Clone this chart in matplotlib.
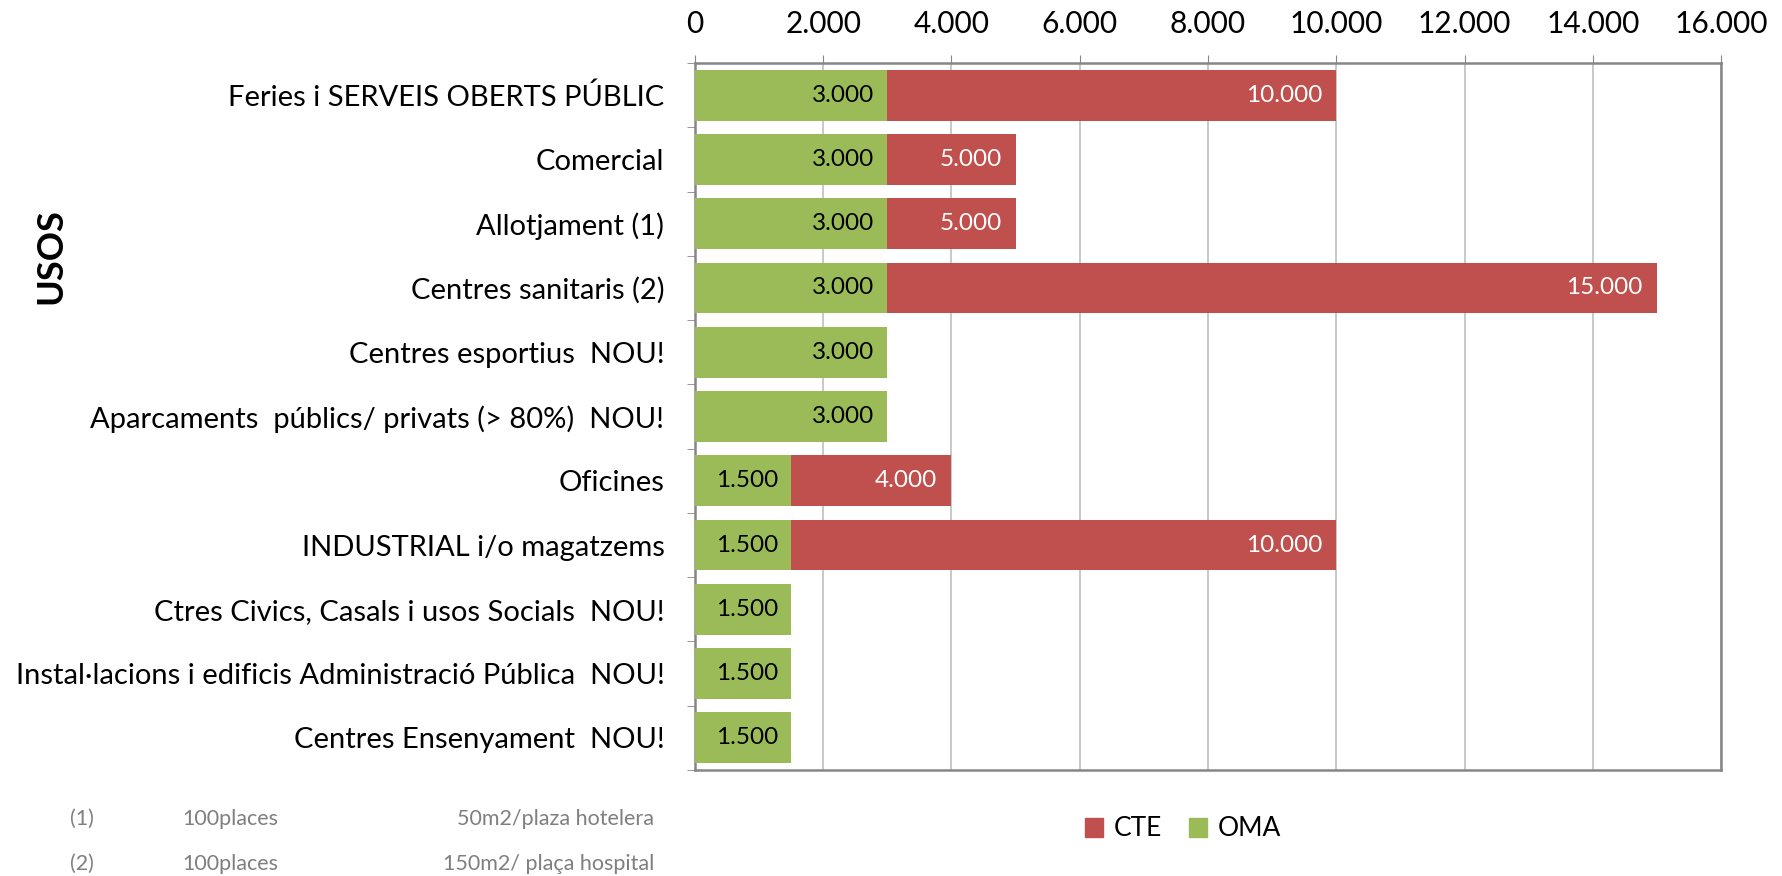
import matplotlib.pyplot as plt
from matplotlib.ticker import FuncFormatter
from matplotlib.patches import Patch

usos = [
    "Feries i SERVEIS OBERTS PÚBLIC",
    "Comercial",
    "Allotjament (1)",
    "Centres sanitaris (2)",
    "Centres esportius  NOU!",
    "Aparcaments  públics/ privats (> 80%)  NOU!",
    "Oficines",
    "INDUSTRIAL i/o magatzems",
    "Ctres Civics, Casals i usos Socials  NOU!",
    "Instal·lacions i edificis Administració Pública  NOU!",
    "Centres Ensenyament  NOU!",
]
oma = [3000, 3000, 3000, 3000, 3000, 3000, 1500, 1500, 1500, 1500, 1500]
cte = [10000, 5000, 5000, 15000, 0, 0, 4000, 10000, 0, 0, 0]

green = '#9BBB59'
red = '#C0504D'
font = 'Lato'
plt.rcParams['font.family'] = [font, 'DejaVu Sans']


def fmt(v):
    return f"{int(v):,}".replace(',', '.')


fig = plt.figure(figsize=(17.83, 8.76), dpi=100)
ax = fig.add_axes([695 / 1783, 1 - 770 / 876, (1721 - 695) / 1783, (770 - 63) / 876])

y = list(range(len(usos)))
# CTE drawn behind, OMA in front (100% overlap like Excel)
ax.barh(y, cte, height=0.79, color=red, zorder=2)
ax.barh(y, oma, height=0.79, color=green, zorder=3)

for i in y:
    ax.text(oma[i] - 200, i, fmt(oma[i]), ha='right', va='center', fontsize=17.5, color='black', zorder=4)
    if cte[i] > 0:
        ax.text(cte[i] - 220, i, fmt(cte[i]), ha='right', va='center', fontsize=17.5, color='white', zorder=4)

ax.set_xlim(0, 16000)
ax.set_ylim(10.5, -0.5)
ax.set_xticks(range(0, 16001, 2000))
ax.xaxis.set_major_formatter(FuncFormatter(lambda v, p: fmt(v)))
ax.xaxis.tick_top()
ax.tick_params(axis='x', length=6, color='#868686', labelsize=21.5, pad=12)
ax.set_yticks(y)
ax.set_yticklabels(usos, fontsize=21)
ax.set_yticks([k + 0.5 for k in range(-1, len(usos))], minor=True)
ax.tick_params(axis='y', which='major', length=0, pad=22)
ax.tick_params(axis='y', which='minor', length=6, color='#868686')
ax.grid(axis='x', color='#BFBFBF', linewidth=1.2, zorder=0)
ax.set_axisbelow(True)
for s in ax.spines.values():
    s.set_color('#868686')
    s.set_linewidth(1.8)

fig.text(51 / 1783, 1 - 256 / 876, 'USOS', rotation=90, ha='center', va='center',
         fontsize=26, fontweight='bold')

# footnotes
gray = '#7F7F7F'
for row, (n, pl, txt) in enumerate([("(1)", "100places", "50m2/plaza hotelera"),
                                    ("(2)", "100places", "150m2/ plaça hospital")]):
    yy = 1 - (819 + row * 45) / 876
    fig.text(70 / 1783, yy, n, fontsize=15.5, color=gray, va='center')
    fig.text(182 / 1783, yy, pl, fontsize=15.5, color=gray, va='center')
    fig.text(654 / 1783, yy, txt, fontsize=15.5, color=gray, va='center', ha='right')

handles = [Patch(color=red, label='CTE'), Patch(color=green, label='OMA')]
fig.legend(handles=handles, loc='center', bbox_to_anchor=(1183 / 1783, 1 - 829 / 876), ncol=2,
           frameon=False, fontsize=19, handlelength=0.7, handleheight=0.7, columnspacing=1.0,
           handletextpad=0.4)

fig.savefig('out.png', dpi=100)
